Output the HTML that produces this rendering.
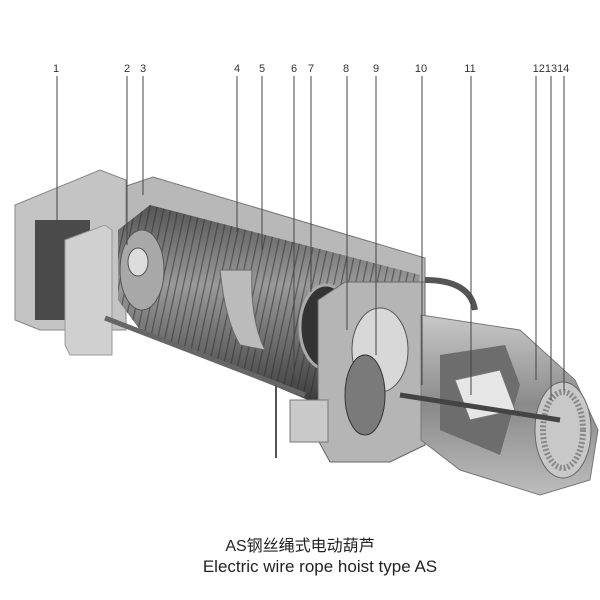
<!DOCTYPE html>
<html><head><meta charset="utf-8"><style>
html,body{margin:0;padding:0;background:#fff;}
svg{display:block}
text{font-family:"Liberation Sans","Noto Sans CJK SC",sans-serif;}
</style></head><body>
<svg width="600" height="600" viewBox="0 0 600 600" xmlns="http://www.w3.org/2000/svg">
<defs>
<linearGradient id="drum" x1="0" y1="0" x2="0" y2="1">
<stop offset="0" stop-color="#555"/><stop offset="0.4" stop-color="#9a9a9a"/><stop offset="1" stop-color="#3a3a3a"/></linearGradient>
<linearGradient id="mot" x1="0" y1="0" x2="0" y2="1">
<stop offset="0" stop-color="#c8c8c8"/><stop offset="0.5" stop-color="#8a8a8a"/><stop offset="1" stop-color="#bdbdbd"/></linearGradient>
<pattern id="groove" width="7" height="10" patternUnits="userSpaceOnUse" patternTransform="rotate(12)">
<rect width="7" height="10" fill="none"/><line x1="0" y1="0" x2="0" y2="10" stroke="#2e2e2e" stroke-width="2.5"/></pattern>
</defs>
<!-- housing top plate -->
<polygon points="100,195 153,177 425,258 425,300 120,230" fill="#b8b8b8" stroke="#777"/>
<!-- left box -->
<polygon points="15,205 100,170 126,180 126,330 40,330 15,320" fill="#c4c4c4" stroke="#888"/>
<rect x="35" y="220" width="55" height="100" fill="#4a4a4a"/>
<polygon points="65,240 105,225 112,230 112,355 70,355 65,345" fill="#d0d0d0" stroke="#999"/>
<!-- drum -->
<polygon points="118,230 150,205 420,275 415,320 340,395 320,405 140,330 118,300" fill="url(#drum)"/>
<polygon points="118,230 150,205 420,275 415,320 340,395 320,405 140,330 118,300" fill="url(#groove)" opacity="0.55"/>
<ellipse cx="142" cy="270" rx="22" ry="40" fill="#a8a8a8" stroke="#555"/>
<ellipse cx="138" cy="262" rx="10" ry="14" fill="#ddd" stroke="#555"/>
<path d="M220,270 Q225,320 240,345 L265,350 Q250,320 252,270 Z" fill="#bbb" stroke="#666"/>
<ellipse cx="326" cy="327" rx="26" ry="42" fill="#333" stroke="#aaa" stroke-width="3"/>
<!-- lower rod -->
<line x1="105" y1="318" x2="305" y2="395" stroke="#666" stroke-width="5"/>
<line x1="276" y1="385" x2="276" y2="458" stroke="#555" stroke-width="2"/>
<!-- gearbox -->
<polygon points="318,300 345,282 425,282 425,445 390,462 330,462 318,440" fill="#b5b5b5" stroke="#666"/>
<rect x="290" y="400" width="38" height="42" fill="#c9c9c9" stroke="#777"/>
<ellipse cx="380" cy="350" rx="28" ry="42" fill="#d8d8d8" stroke="#555"/>
<ellipse cx="365" cy="395" rx="20" ry="40" fill="#7a7a7a" stroke="#333"/>
<path d="M425,280 Q470,280 475,310" fill="none" stroke="#555" stroke-width="6"/>
<!-- motor -->
<polygon points="421,315 520,330 575,380 598,430 590,480 540,495 460,470 421,440" fill="url(#mot)" stroke="#777"/>
<polygon points="440,355 505,345 520,385 500,455 440,430" fill="#6d6d6d"/>
<polygon points="455,380 500,370 515,410 470,420" fill="#e6e6e6" stroke="#777"/>
<ellipse cx="563" cy="430" rx="28" ry="48" fill="#c8c8c8" stroke="#666"/>
<ellipse cx="563" cy="430" rx="20" ry="38" fill="none" stroke="#888" stroke-dasharray="2 2" stroke-width="6"/>
<line x1="400" y1="395" x2="560" y2="420" stroke="#444" stroke-width="5"/>
<!-- leader lines -->
<g stroke="#444" stroke-width="1">
<line x1="57" y1="76" x2="57" y2="225"/>
<line x1="127" y1="76" x2="127" y2="245"/>
<line x1="143" y1="76" x2="143" y2="195"/>
<line x1="237" y1="76" x2="237" y2="232"/>
<line x1="262" y1="76" x2="262" y2="250"/>
<line x1="294" y1="76" x2="294" y2="385"/>
<line x1="311" y1="76" x2="311" y2="292"/>
<line x1="347" y1="76" x2="347" y2="330"/>
<line x1="376" y1="76" x2="376" y2="355"/>
<line x1="422" y1="76" x2="422" y2="385"/>
<line x1="471" y1="76" x2="471" y2="395"/>
<line x1="536" y1="76" x2="536" y2="380"/>
<line x1="551" y1="76" x2="551" y2="400"/>
<line x1="564" y1="76" x2="564" y2="390"/>
</g>
<g font-size="11" fill="#333" text-anchor="middle">
<text x="56" y="72">1</text><text x="127" y="72">2</text><text x="143" y="72">3</text>
<text x="237" y="72">4</text><text x="262" y="72">5</text><text x="294" y="72">6</text>
<text x="311" y="72">7</text><text x="346" y="72">8</text><text x="376" y="72">9</text>
<text x="421" y="72">10</text><text x="470" y="72">11</text>
<text x="551" y="72">121314</text>
</g>
<text x="300" y="551" font-size="16" fill="#222" text-anchor="middle">AS钢丝绳式电动葫芦</text>
<text x="320" y="572" font-size="17" fill="#222" text-anchor="middle">Electric wire rope hoist type AS</text>
</svg>
</body></html>
